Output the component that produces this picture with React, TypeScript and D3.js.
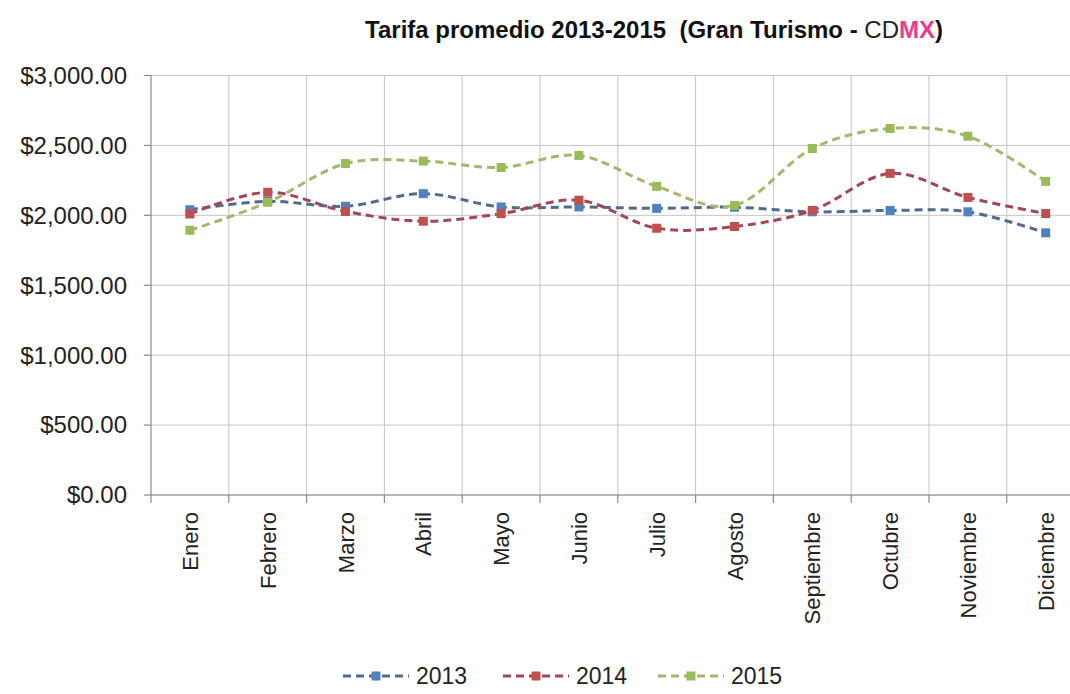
import React from "react";
import * as d3 from "d3";

const months = ["Enero", "Febrero", "Marzo", "Abril", "Mayo", "Junio", "Julio", "Agosto", "Septiembre", "Octubre", "Noviembre", "Diciembre"];
const years = ["2013", "2014", "2015"];
const v2013 = [2040, 2100, 2065, 2155, 2060, 2060, 2050, 2058, 2025, 2035, 2025, 1875];
const v2014 = [2010, 2165, 2028, 1958, 2012, 2108, 1908, 1920, 2035, 2300, 2128, 2013];
const v2015 = [1893, 2093, 2370, 2388, 2342, 2428, 2207, 2071, 2478, 2621, 2566, 2243];
const yTicks = [0, 500, 1000, 1500, 2000, 2500, 3000];

const markerColors = ["#4F81BD", "#C0504D", "#9BBB59"];
const lineColors = ["#536a8c", "#a3455a", "#a9b470"];

const W = 1070;
const H = 694;
const FONT = "'Liberation Sans', Arial, sans-serif";

export default function App() {
  const series = [v2013, v2014, v2015];
  const x = d3.scaleBand<string>().domain(months).range([151, 1084.6]);
  const bw = x.bandwidth();
  const cx = (m: string) => (x(m) as number) + bw / 2;
  const y = d3.scaleLinear().domain([0, 3000]).range([495, 75.5]);
  const fmt = (v: number) => "$" + d3.format(",.2f")(v);
  const line = d3
    .line<number>()
    .x((_, i) => cx(months[i]))
    .y((d) => y(d))
    .curve(d3.curveCardinal.tension(0));

  const boundaries = months.map((m) => x(m) as number).concat([1084.6]);
  const legendX = [343, 503, 658];

  return (
    <svg width={W} height={H} style={{ position: "absolute", left: 0, top: 0, background: "#fff" }} fontFamily={FONT}>
      <rect x={0} y={0} width={W} height={H} fill="#fff" />
      {/* title */}
      <text x={943} y={38} textAnchor="end" fontSize={24} fontWeight="bold" fill="#111" xmlSpace="preserve">
        Tarifa promedio 2013-2015  (Gran Turismo - <tspan fontWeight="normal" fill="#222">CD</tspan>
        <tspan fill="#ee3a8c">MX</tspan>)
      </text>
      {/* horizontal gridlines */}
      {yTicks.map((t) => (
        <line key={"h" + t} x1={151} x2={1084.6} y1={y(t)} y2={y(t)} stroke="#c4c4c4" strokeWidth={1} />
      ))}
      {/* vertical gridlines */}
      {boundaries.slice(1).map((b, i) => (
        <line key={"v" + i} x1={b} x2={b} y1={75.5} y2={495} stroke="#c4c4c4" strokeWidth={1} />
      ))}
      {/* axes */}
      <line x1={151} x2={151} y1={75.5} y2={495} stroke="#8a8a8a" strokeWidth={1.2} />
      <line x1={151} x2={1084.6} y1={495} y2={495} stroke="#8a8a8a" strokeWidth={1.2} />
      {yTicks.map((t) => (
        <g key={"yt" + t}>
          <line x1={144} x2={151} y1={y(t)} y2={y(t)} stroke="#8a8a8a" strokeWidth={1.2} />
          <text x={127} y={y(t)} dy="0.35em" textAnchor="end" fontSize={24} fill="#222">
            {fmt(t)}
          </text>
        </g>
      ))}
      {boundaries.map((b, i) => (
        <line key={"xt" + i} x1={b} x2={b} y1={495} y2={503} stroke="#8a8a8a" strokeWidth={1.2} />
      ))}
      {months.map((m) => (
        <text
          key={"xl" + m}
          transform={`translate(${cx(m) + 8},512) rotate(-90)`}
          textAnchor="end"
          fontSize={22}
          fill="#222"
        >
          {m}
        </text>
      ))}
      {/* series */}
      {series.map((s, si) => (
        <g key={"s" + si}>
          <path d={line(s) || ""} fill="none" stroke={lineColors[si]} strokeWidth={3} strokeDasharray="8,5" />
          {s.map((v, i) => (
            <rect key={i} x={cx(months[i]) - 4.5} y={y(v) - 4.5} width={9} height={9} fill={markerColors[si]} />
          ))}
        </g>
      ))}
      {/* legend */}
      {years.map((yr, i) => (
        <g key={"lg" + yr}>
          <line x1={legendX[i]} x2={legendX[i] + 66} y1={676} y2={676} stroke={lineColors[i]} strokeWidth={3} strokeDasharray="8,5" />
          <rect x={legendX[i] + 33 - 4.5} y={676 - 4.5} width={9} height={9} fill={markerColors[i]} />
          <text x={legendX[i] + 73} y={684} fontSize={23} fill="#222">
            {yr}
          </text>
        </g>
      ))}
    </svg>
  );
}
